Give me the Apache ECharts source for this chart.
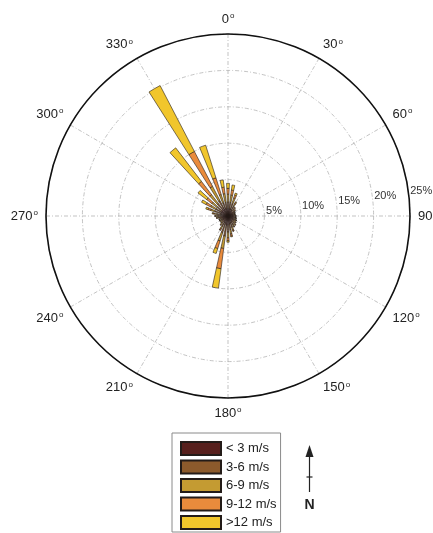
<!DOCTYPE html>
<html>
<head>
<meta charset="utf-8">
<script src="https://cdn.jsdelivr.net/npm/echarts/dist/echarts.min.js"></script>
<style>
html, body { margin: 0; padding: 0; background: #fff; }
#rose { width: 433px; height: 533px; }
</style>
</head>
<body>
<div id="rose"></div>
<script>
// direction bins (degrees, clockwise from north)
var directions = ['0', '10', '20', '30', '40', '50', '60', '70', '80', '90', '100', '110',
    '120', '130', '140', '150', '160', '170', '180', '190', '200', '210', '220', '230',
    '240', '250', '260', '270', '280', '290', '300', '310', '320', '330', '340', '350'];
var speedClasses = ['< 3 m/s', '3-6 m/s', '6-9 m/s', '9-12 m/s', '>12 m/s'];
var barColors = ['#571f1c', '#8c5a2c', '#c49b32', '#e98b3c', '#f1c62c'];

// frequency (%) per bin for each speed class
var lt3    = [1.0, 1.0, 1.0, 0.9, 0.8, 0.8, 0.7, 0.7, 0.7, 0.7, 0.7, 0.8,
              0.8, 0.8, 0.9, 0.9, 1.0, 1.1, 1.2, 1.3, 1.2, 1.0, 0.9, 0.8,
              0.8, 0.8, 0.9, 1.0, 1.0, 1.1, 1.1, 1.1, 1.2, 1.2, 1.1, 1.0];
var s3to6  = [0.9, 0.9, 0.8, 0.6, 0.4, 0.3, 0.3, 0.2, 0.2, 0.3, 0.3, 0.3,
              0.3, 0.3, 0.4, 0.5, 0.6, 0.8, 1.0, 1.5, 1.2, 0.6, 0.4, 0.3,
              0.3, 0.3, 0.4, 0.4, 0.5, 0.8, 0.8, 0.8, 1.0, 1.2, 0.8, 0.9];
var s6to9  = [1.1, 1.0, 0.8, 0.4, 0.2, 0.1, 0.1, 0.1, 0.1, 0.1, 0.1, 0.1,
              0.2, 0.2, 0.2, 0.2, 0.4, 0.6, 0.8, 1.7, 1.2, 0.4, 0.2, 0.2,
              0.2, 0.2, 0.2, 0.3, 0.4, 0.6, 0.8, 0.9, 1.5, 2.2, 1.2, 1.2];
var s9to12 = [0.8, 0.7, 0.4, 0.2, 0.1, 0.1, 0, 0, 0, 0, 0, 0,
              0, 0.1, 0.1, 0.1, 0.2, 0.3, 0.4, 2.8, 1.1, 0.2, 0.1, 0,
              0, 0, 0.1, 0.1, 0.2, 0.4, 0.7, 0.9, 2.3, 5.4, 2.4, 0.9];
var gt12   = [0.7, 0.7, 0.3, 0.1, 0, 0, 0, 0, 0, 0, 0, 0,
              0, 0, 0, 0, 0, 0.1, 0.2, 2.7, 0.7, 0, 0, 0,
              0, 0, 0, 0, 0.1, 0.3, 0.7, 1.5, 5.8, 10.2, 4.7, 1.0];
var speedData = [lt3, s3to6, s6to9, s9to12, gt12];

var angleTicks = [0, 30, 60, 90, 120, 150, 180, 210, 240, 270, 300, 330];
var radiusTicks = [0, 5, 10, 15, 20, 25];

var chart = echarts.init(document.getElementById('rose'));
var font = "'Liberation Sans', Arial, sans-serif";
var center = [228, 216];
var radius = 182;
var gridDash = [4, 2, 1, 2];

var series = [];
for (var i = 0; i < speedClasses.length; i++) {
    series.push({
        name: speedClasses[i],
        type: 'bar',
        coordinateSystem: 'polar',
        polarIndex: 1,
        stack: 'rose',
        barWidth: '50%',
        data: speedData[i],
        itemStyle: {
            color: barColors[i],
            borderColor: '#231b18',
            borderWidth: 0.6
        }
    });
}

option = {
    animation: false,
    backgroundColor: '#fff',
    textStyle: { fontFamily: font },
    polar: [
        { center: center, radius: radius },   // grid + angle labels
        { center: center, radius: radius },   // bars
        { center: center, radius: radius }    // % labels
    ],
    angleAxis: [{
        polarIndex: 0,
        type: 'value',
        min: 0,
        max: 360,
        interval: 30,
        startAngle: 90,
        clockwise: true,
        axisLine: { lineStyle: { color: '#111', width: 1.6 } },
        axisTick: { show: false },
        axisLabel: {
            margin: 8,
            color: '#222',
            fontSize: 13,
            formatter: function (v) {
                if (angleTicks.indexOf(v) < 0 || v === 360) return '';
                return '{n|' + v + '}{o|o}';
            },
            rich: {
                n: { fontSize: 13, color: '#222', fontFamily: font },
                o: { fontSize: 8, color: '#222', fontFamily: font, verticalAlign: 'bottom', padding: [0, 0, 6, 1] }
            }
        },
        splitLine: { lineStyle: { color: '#b4b4b4', width: 0.8, type: gridDash } }
    }, {
        polarIndex: 1,
        type: 'category',
        data: directions,
        startAngle: 95,
        clockwise: true,
        show: false
    }, {
        polarIndex: 2,
        type: 'value',
        min: 0,
        max: 360,
        startAngle: 8,
        show: false
    }],
    radiusAxis: [{
        polarIndex: 0,
        min: 0,
        max: 25,
        interval: 5,
        axisLine: { show: false },
        axisTick: { show: false },
        axisLabel: { show: false },
        splitLine: { lineStyle: { color: '#b4b4b4', width: 0.8, type: gridDash } }
    }, {
        polarIndex: 1,
        min: 0,
        max: 25,
        show: false
    }, {
        polarIndex: 2,
        min: 0,
        max: 25,
        interval: 5,
        axisLine: { show: false },
        axisTick: { show: false },
        splitLine: { show: false },
        axisLabel: {
            margin: 0,
            align: 'left',
            verticalAlign: 'middle',
            padding: [0, 0, 0, 2],
            color: '#333',
            fontSize: 11,
            formatter: function (v) {
                return (v === 0 || radiusTicks.indexOf(v) < 0) ? '' : v + '%';
            }
        }
    }],
    legend: {
        orient: 'vertical',
        left: 172,
        top: 433,
        height: 104,
        padding: [8, 4, 2, 8],
        itemWidth: 40,
        itemHeight: 13,
        itemGap: 3.5,
        icon: 'rect',
        borderColor: '#8a8a8a',
        borderWidth: 1,
        data: speedClasses,
        textStyle: { fontSize: 13, lineHeight: 13, color: '#222', fontFamily: font }
    },
    graphic: [{
        type: 'group',
        left: 304,
        top: 445,
        children: [
            { type: 'line', shape: { x1: 7, y1: 10, x2: 7, y2: 47 }, style: { stroke: '#222', lineWidth: 1.2 } },
            { type: 'polygon', shape: { points: [[7, 0], [3, 12], [11, 12]] }, style: { fill: '#222' } },
            { type: 'line', shape: { x1: 4, y1: 32, x2: 10, y2: 32 }, style: { stroke: '#222', lineWidth: 1.2 } },
            { type: 'text', x: 7, y: 60, style: { text: 'N', fill: '#222', font: 'bold 14px ' + font, align: 'center', verticalAlign: 'middle' } }
        ]
    }],
    series: series
};

chart.setOption(option);
</script>
</body>
</html>
